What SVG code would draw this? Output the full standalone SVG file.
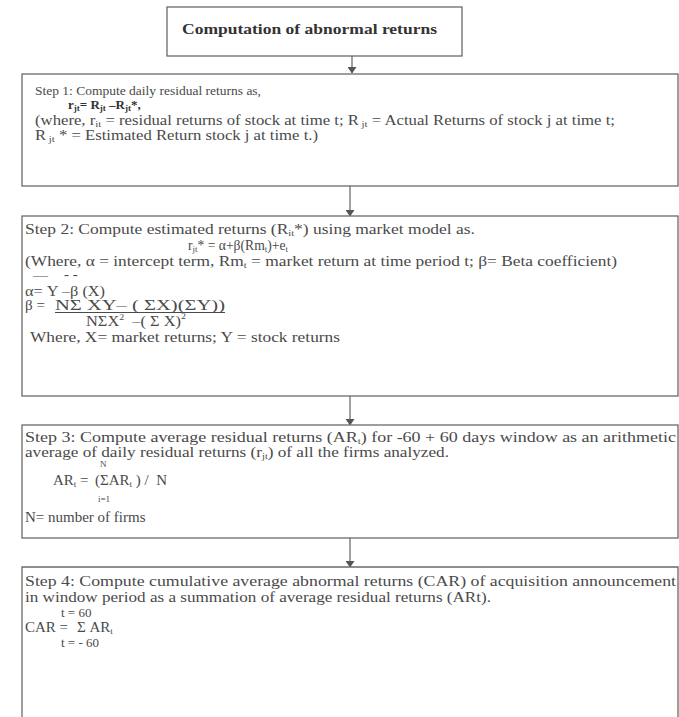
<svg xmlns="http://www.w3.org/2000/svg" width="679" height="717" viewBox="0 0 679 717">
<style>
.box{fill:#fff;stroke:#6a6a6a;stroke-width:1.3}
.t{font-family:"Liberation Serif","Times New Roman",serif;font-size:15px;fill:#4a4a4a}
.t1{font-size:14px}
.t2{font-size:13px}
.b{font-weight:bold;fill:#333}
.s{font-size:9px}
.c{stroke:#555;stroke-width:1.1;fill:none}
</style>
<defs>
<marker id="ah2" markerWidth="9" markerHeight="8" refX="4.5" refY="7" markerUnits="userSpaceOnUse" viewBox="0 0 9 8">
<path d="M0,1 L9,1 L4.5,7.5 Z" fill="#555"/>
</marker>
</defs>
<rect width="679" height="717" fill="#fff"/>
<g id="connectors">
<line class="c" x1="352" y1="56" x2="352" y2="73" marker-end="url(#ah2)"/>
<line class="c" x1="350" y1="186" x2="350" y2="216" marker-end="url(#ah2)"/>
<line class="c" x1="350" y1="396" x2="350" y2="425" marker-end="url(#ah2)"/>
<line class="c" x1="350" y1="538" x2="350" y2="567" marker-end="url(#ah2)"/>
</g>
<g id="title">
<rect class="box" x="167" y="7" width="295" height="49"/>
<text class="t b" x="182" y="34" font-size="16" textLength="255" lengthAdjust="spacingAndGlyphs">Computation of abnormal returns</text>
</g>
<g id="step1">
<rect class="box" x="22" y="74" width="656" height="112"/>
<text class="t t2" x="35" y="95" textLength="226" lengthAdjust="spacingAndGlyphs">Step 1: Compute daily residual returns as,</text>
<text class="t t2 b" x="68" y="109">r<tspan class="s" dy="2">jt</tspan><tspan dy="-2">= R</tspan><tspan class="s" dy="2">jt</tspan><tspan dy="-2"> –R</tspan><tspan class="s" dy="2">jt</tspan><tspan dy="-2">*,</tspan></text>
<text class="t t1" x="35" y="125" textLength="580" lengthAdjust="spacingAndGlyphs">(where, r<tspan class="s" dy="2">it</tspan><tspan dy="-2"> = residual returns of stock at time t; R</tspan><tspan class="s" dy="2"> jt</tspan><tspan dy="-2"> = Actual Returns of stock j at time t;</tspan></text>
<text class="t t1" x="35" y="140" textLength="283" lengthAdjust="spacingAndGlyphs">R<tspan class="s" dy="2"> jt</tspan><tspan dy="-2"> * = Estimated Return stock j at time t.)</tspan></text>
</g>
<g id="step2">
<rect class="box" x="22" y="216" width="656" height="180"/>
<text class="t" x="25" y="234" textLength="450" lengthAdjust="spacingAndGlyphs">Step 2: Compute estimated returns (R<tspan class="s" dy="2">it</tspan><tspan dy="-2">*) using market model as.</tspan></text>
<text class="t t1" x="188" y="250" textLength="100" lengthAdjust="spacingAndGlyphs">r<tspan class="s" dy="2">jt</tspan><tspan dy="-2">* = α+β(Rm</tspan><tspan class="s" dy="2">t</tspan><tspan dy="-2">)+e</tspan><tspan class="s" dy="2">t</tspan></text>
<text class="t" x="25" y="266" textLength="592" lengthAdjust="spacingAndGlyphs">(Where, α = intercept term, Rm<tspan class="s" dy="2">t</tspan><tspan dy="-2"> = market return at time period t; β= Beta coefficient)</tspan></text>
<text class="t" x="33" y="280" font-size="9">—</text>
<text class="t" x="64" y="279" font-size="9">- -</text>
<text class="t" x="25" y="296" textLength="80" lengthAdjust="spacingAndGlyphs">α= Y –β (X)</text>
<text class="t" x="25" y="310">β =</text>
<text class="t" x="55" y="310" textLength="170" lengthAdjust="spacingAndGlyphs">NΣ XY– ( ΣX)(ΣY))</text>
<line x1="55" y1="312.5" x2="225" y2="312.5" stroke="#4a4a4a" stroke-width="1"/>
<text class="t" x="86" y="326" textLength="100" lengthAdjust="spacingAndGlyphs">NΣX<tspan class="s" dy="-6">2</tspan><tspan dy="6" xml:space="preserve">  –( Σ X)</tspan><tspan class="s" dy="-7">2</tspan></text>
<text class="t" x="30" y="342" textLength="310" lengthAdjust="spacingAndGlyphs">Where, X= market returns; Y = stock returns</text>
</g>
<g id="step3">
<rect class="box" x="22" y="425" width="656" height="113"/>
<text class="t" x="25" y="442" textLength="651" lengthAdjust="spacingAndGlyphs">Step 3: Compute average residual returns (AR<tspan class="s" dy="1.5">t</tspan><tspan dy="-1.5">) for -60 + 60 days window as an arithmetic</tspan></text>
<text class="t" x="25" y="457" textLength="424" lengthAdjust="spacingAndGlyphs">average of daily residual returns (r<tspan class="s" dy="2">jt</tspan><tspan dy="-2">) of all the firms analyzed.</tspan></text>
<text class="t s" x="100" y="467" font-size="7">N</text>
<text class="t" x="53" y="485">AR<tspan class="s" dy="2">t</tspan><tspan dy="-2"> =</tspan></text>
<text class="t" x="95" y="485" xml:space="preserve">(ΣAR<tspan class="s" dy="2">t</tspan><tspan dy="-2"> ) /  N</tspan></text>
<text class="t s" x="98" y="502" font-size="7">i=1</text>
<text class="t" x="25" y="522">N= number of firms</text>
</g>
<g id="step4">
<path class="box" d="M22,717 L22,567 L678,567 L678,717"/>
<text class="t" x="25" y="586" textLength="651" lengthAdjust="spacingAndGlyphs">Step 4: Compute cumulative average abnormal returns (CAR) of acquisition announcement</text>
<text class="t" x="25" y="602" textLength="466" lengthAdjust="spacingAndGlyphs">in window period as a summation of average residual returns (ARt).</text>
<text class="t t2" x="61" y="617">t = 60</text>
<text class="t" x="25" y="632">CAR =</text>
<text class="t" x="77" y="632">Σ AR<tspan class="s" dy="2">t</tspan></text>
<text class="t t2" x="61" y="647">t = - 60</text>
</g>
</svg>
